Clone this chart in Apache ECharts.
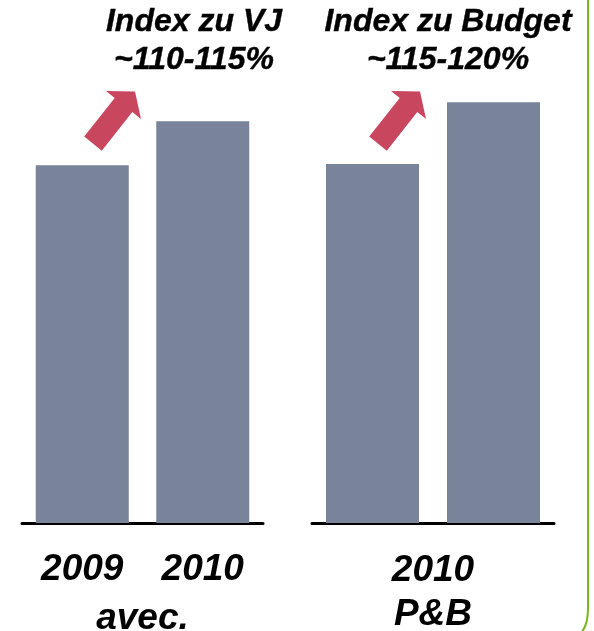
<!DOCTYPE html>
<html>
<head>
<meta charset="utf-8">
<script src="https://cdn.jsdelivr.net/npm/echarts@6/dist/echarts.min.js"></script>
<style>
  html, body { margin: 0; padding: 0; background: #fff; }
  #chart { width: 594px; height: 631px; }
</style>
</head>
<body>
<div id="chart"></div>
<script>
// Index values (2009 = 100)
const vjCategories = ['2009', '2010'];
const vjValues = [100, 112.3];
const budgetCategories = ['Budget 2010', 'P&B 2010'];
const budgetValues = [100.3, 117.6];

const vjGroupLabel = 'avec.';
const budgetGroupLabel = '2010\nP&B';
const vjHeadline = ['Index zu VJ', '~110-115%'];
const budgetHeadline = ['Index zu Budget', '~115-120%'];

const FONT = '"Liberation Sans", Arial, sans-serif';
const BAR = '#79849A';
const ARROW = '#C9465F';
const GREEN = '#78B51E';

const chart = echarts.init(document.getElementById('chart'), null, { renderer: 'canvas' });

const labelStyle = {
  fontFamily: FONT, fontWeight: 'bold', fontStyle: 'italic',
  fontSize: 37, color: '#000', lineHeight: 44
};

function xAxisFor(gridIndex, cats, showLabels, name, gap) {
  return {
    type: 'category', gridIndex, data: cats,
    axisLine: { lineStyle: { color: '#000', width: 3, cap: 'round' } },
    axisTick: { show: false },
    axisLabel: Object.assign({ show: showLabels, margin: 25, interval: 0 }, labelStyle),
    name, nameLocation: 'middle', nameGap: gap,
    nameTextStyle: labelStyle
  };
}

function yAxisFor(gridIndex) {
  return {
    type: 'value', gridIndex, min: 0, max: 140,
    show: false, splitLine: { show: false }
  };
}

// Block arrow pointing up-right
function arrow(dx) {
  const pts = [
    [84.2, 136.6], [114.7, 97.9], [106, 91], [135, 91.5],
    [141, 119], [132.3, 112.1], [101.8, 150.8]
  ].map(p => [p[0] + dx, p[1]]);
  return { type: 'polygon', shape: { points: pts }, style: { fill: ARROW }, z: 10 };
}

function headline(lines, cx) {
  return lines.map((t, i) => ({
    type: 'text', z: 10,
    style: {
      text: t, x: cx, y: 22.5 + i * 37.5,
      align: 'center', verticalAlign: 'middle',
      font: 'italic bold 32px ' + FONT, fill: '#000',
      stroke: '#000', lineWidth: 0.4
    }
  }));
}

chart.setOption({
  animation: false,
  grid: [
    { left: 22, width: 241, top: 22, bottom: 108, outerBoundsMode: 'none', containLabel: false },
    { left: 312, width: 242, top: 22, bottom: 108, outerBoundsMode: 'none', containLabel: false }
  ],
  xAxis: [
    xAxisFor(0, vjCategories, true, vjGroupLabel, 69),
    xAxisFor(1, budgetCategories, false, budgetGroupLabel, 26)
  ],
  yAxis: [yAxisFor(0), yAxisFor(1)],
  series: [
    { type: 'bar', xAxisIndex: 0, yAxisIndex: 0, data: vjValues, barWidth: 93, itemStyle: { color: BAR } },
    { type: 'bar', xAxisIndex: 1, yAxisIndex: 1, data: budgetValues, barWidth: 93, itemStyle: { color: BAR } }
  ],
  graphic: [
    arrow(0),
    arrow(285),
    ...headline(vjHeadline, 194),
    ...headline(budgetHeadline, 448),
    { type: 'line', shape: { x1: 588, y1: 0, x2: 588, y2: 606 }, style: { stroke: GREEN, lineWidth: 2 } },
    { type: 'bezierCurve', shape: { x1: 588, y1: 606, cpx1: 588, cpy1: 620, cpx2: 586, cpy2: 626, x2: 582, y2: 632 },
      style: { stroke: GREEN, lineWidth: 2, fill: null } }
  ]
});
</script>
</body>
</html>
